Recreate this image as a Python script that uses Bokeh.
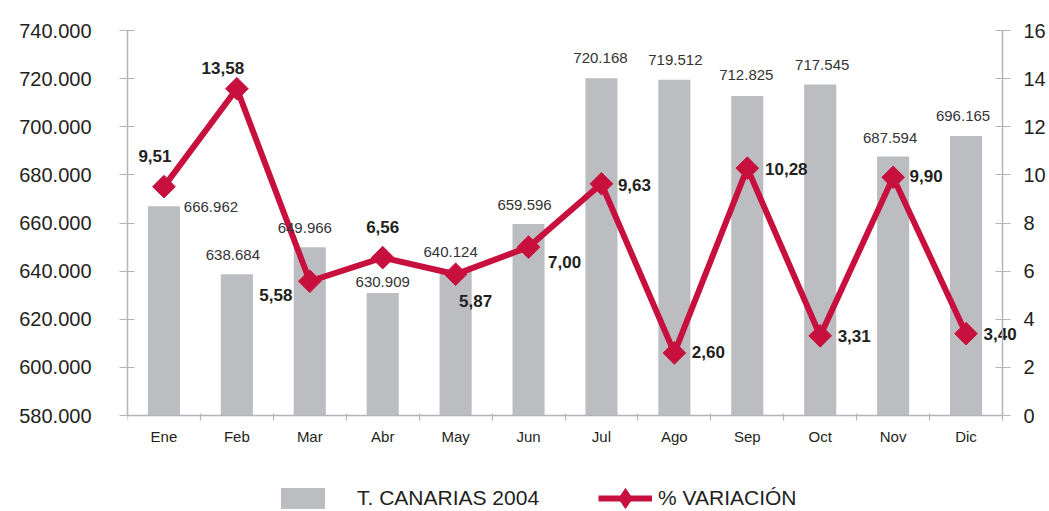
import math
from bokeh.plotting import figure
from bokeh.models import (Range1d, LinearAxis, FixedTicker, Legend, LegendItem,
                          ColumnDataSource)
from bokeh.embed import file_html
from bokeh.resources import INLINE

# ---- data ----
months = ["Ene", "Feb", "Mar", "Abr", "May", "Jun", "Jul", "Ago", "Sep", "Oct", "Nov", "Dic"]
visitors = [666962, 638684, 649966, 630909, 640124, 659596, 720168, 719512, 712825, 717545, 687594, 696165]
visitor_labels = ["666.962", "638.684", "649.966", "630.909", "640.124", "659.596",
                  "720.168", "719.512", "712.825", "717.545", "687.594", "696.165"]
variation = [9.51, 13.58, 5.58, 6.56, 5.87, 7.00, 9.63, 2.60, 10.28, 3.31, 9.90, 3.40]
variation_labels = ["9,51", "13,58", "5,58", "6,56", "5,87", "7,00", "9,63", "2,60", "10,28", "3,31", "9,90", "3,40"]
left_ticks = [580000, 600000, 620000, 640000, 660000, 680000, 700000, 720000, 740000]
left_tick_labels = ["580.000", "600.000", "620.000", "640.000", "660.000", "680.000", "700.000", "720.000", "740.000"]
right_ticks = [0, 2, 4, 6, 8, 10, 12, 14, 16]

# ---- label placement (screen offsets, px) ----
bar_lbl_dx = [47, -4, -5, 0, -5, -4, -1, 1, -1, 2, -3, -3]
bar_lbl_dy = [1, -19, -19, -11, -19, -19, -20, -20, -21, -20, -19, -20]
var_lbl_dx = [-9, -14, -34, 0, 20, 36, 33, 34, 39, 34, 33, 34]
var_lbl_dy = [-31, -21, 14, -31, 27, 15, 1, -1, 1, 0, -1, 0]

# ---- layout (px) ----
FIG_W, FIG_H = 1049, 511
AXIS_T, AXIS_B = 30, 415             # y of top tick and of the x axis line
AXIS_L, AXIS_R = 127, 1002           # x of left and right value axes

FONT = "Liberation Sans"
TXT = "#231F20"
AXIS = "#B4B5BB"
BAR = "#BCBDC1"
RED = "#C8103E"

# extend the ranges past the axes so legend and edge labels lie inside the frame
ext_bot = (FIG_H - AXIS_B) / (AXIS_B - AXIS_T)
ext_top = AXIS_T / (AXIS_B - AXIS_T)
ext_right = (FIG_W - AXIS_R) / (AXIS_R - AXIS_L)
l0, l1 = left_ticks[0], left_ticks[-1]
r0, r1 = right_ticks[0], right_ticks[-1]
x0, x1 = 0.5, len(months) + 0.5

xs = [i + 1 for i in range(len(months))]
src = ColumnDataSource(dict(x=xs, v=visitors, vl=visitor_labels, p=variation, pl=variation_labels,
                            bdx=bar_lbl_dx, bdy=bar_lbl_dy, vdx=var_lbl_dx, vdy=var_lbl_dy))

p = figure(width=FIG_W, height=FIG_H, output_backend="svg", toolbar_location=None,
           x_range=Range1d(x0, x1 + (x1 - x0) * ext_right),
           y_range=Range1d(l0 - (l1 - l0) * ext_bot, l1 + (l1 - l0) * ext_top),
           min_border_left=AXIS_L, min_border_right=0, min_border_top=0,
           min_border_bottom=0, y_axis_location=None, x_axis_location=None)
p.outline_line_color = None
p.grid.visible = False
p.background_fill_color = "white"
p.border_fill_color = "white"
p.extra_y_ranges = {"pct": Range1d(r0 - (r1 - r0) * ext_bot, r1 + (r1 - r0) * ext_top)}

# left axis
la = LinearAxis(ticker=FixedTicker(ticks=left_ticks), bounds=(l0, l1),
                major_label_overrides={t: l for t, l in zip(left_ticks, left_tick_labels)})
# right axis, fixed at the right end of the categories
ra = LinearAxis(y_range_name="pct", ticker=FixedTicker(ticks=right_ticks), bounds=(r0, r1),
                fixed_location=x1)
for ax, tin, tout, st in ((la, 7, 8, 28), (ra, 7, 8, 13)):
    ax.axis_line_color = AXIS
    ax.axis_line_width = 1.5
    ax.major_tick_line_color = AXIS
    ax.major_tick_line_width = 1.2
    ax.major_tick_in = tin
    ax.major_tick_out = tout
    ax.minor_tick_line_color = None
    ax.major_label_text_font = FONT
    ax.major_label_text_font_size = "20px"
    ax.major_label_text_color = TXT
    ax.major_label_standoff = st
p.add_layout(la, "left")
p.add_layout(ra, "right")

# bottom axis, fixed at the lowest left tick: labels at centers, ticks between categories
bounds = [x - 0.5 for x in xs] + [xs[-1] + 0.5]
ba = LinearAxis(ticker=FixedTicker(ticks=xs, minor_ticks=bounds), fixed_location=l0,
                bounds=(x0, x1),
                major_label_overrides={x: m for x, m in zip(xs, months)})
ba.axis_line_color = AXIS
ba.axis_line_width = 1.5
ba.major_tick_line_color = None
ba.major_tick_in = 0
ba.major_tick_out = 0
ba.minor_tick_line_color = AXIS
ba.minor_tick_line_width = 1.2
ba.minor_tick_in = 2
ba.minor_tick_out = 5
ba.major_label_text_font = FONT
ba.major_label_text_font_size = "15px"
ba.major_label_text_color = TXT
ba.major_label_standoff = 7
p.add_layout(ba, "below")

bars = p.vbar(x="x", top="v", bottom=l0, width=0.44, source=src,
              fill_color=BAR, line_color=None)
line = p.line(x="x", y="p", source=src, y_range_name="pct", line_color=RED, line_width=6,
              line_join="miter")
# diamond hidden under the rotated squares: gives the legend its diamond icon
pts_leg = p.scatter(x="x", y="p", source=src, y_range_name="pct", marker="diamond",
                    size=14, fill_color=RED, line_color=RED)
pts = p.scatter(x="x", y="p", source=src, y_range_name="pct", marker="square", angle=math.pi / 4,
                size=16, fill_color=RED, line_color=RED)

p.text(x="x", y="v", text="vl", source=src, x_offset="bdx", y_offset="bdy",
       text_align="center", text_baseline="middle", text_font={"value": FONT},
       text_font_size="15px", text_color="#333333")
p.text(x="x", y="p", text="pl", source=src, y_range_name="pct", x_offset="vdx", y_offset="vdy",
       text_align="center", text_baseline="middle", text_font={"value": FONT},
       text_font_size="17px", text_font_style="bold", text_color=TXT)

# legends at the bottom of the frame
lg1 = Legend(items=[LegendItem(label="T. CANARIAS 2004", renderers=[bars])],
             location=(148, 0), glyph_width=55, glyph_height=26, label_standoff=27)
lg2 = Legend(items=[LegendItem(label="% VARIACIÓN", renderers=[line, pts_leg])],
             location=(471, -12), glyph_width=54, glyph_height=50, label_standoff=6)
for lg in (lg1, lg2):
    lg.padding = 0
    lg.margin = 0
    lg.border_line_color = None
    lg.background_fill_alpha = 0
    lg.label_text_font = FONT
    lg.label_text_font_size = "21px"
    lg.label_text_color = TXT
    lg.orientation = "horizontal"
    p.add_layout(lg, "center")

open("out.html", "w").write(file_html(p, INLINE))
